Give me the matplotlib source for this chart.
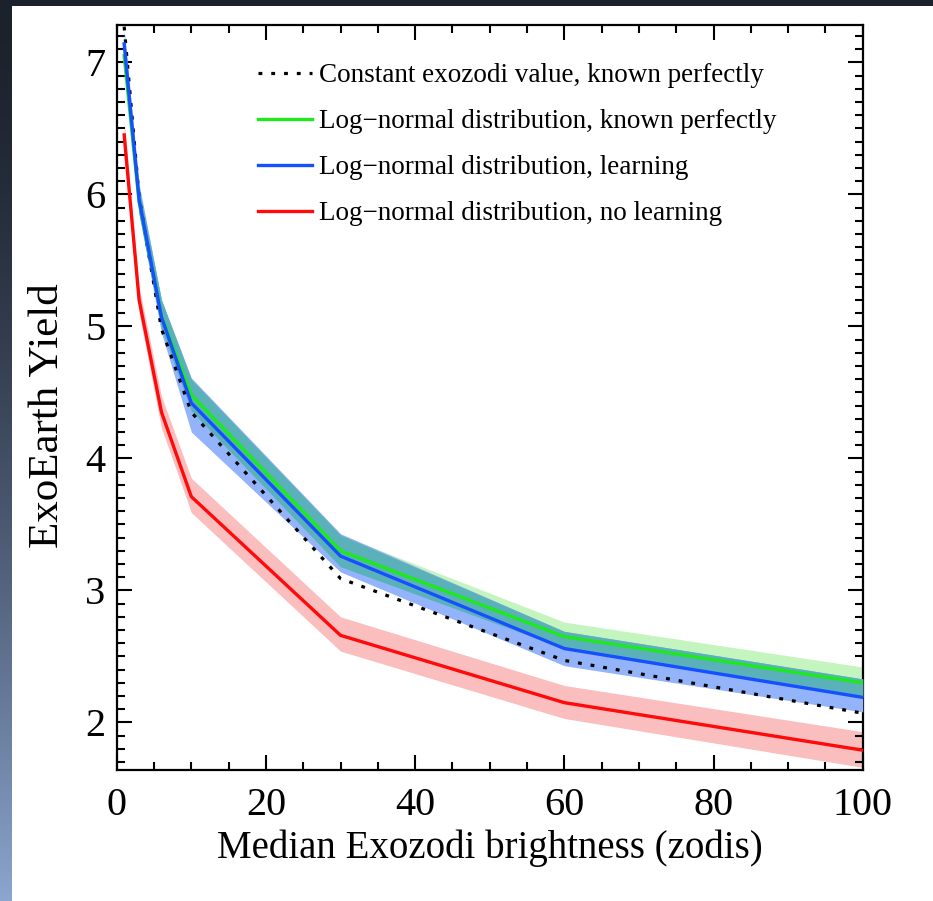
import numpy as np
import matplotlib
matplotlib.use('Agg')
import matplotlib.pyplot as plt
from matplotlib.ticker import MultipleLocator

plt.rcParams['font.family'] = ['Liberation Serif', 'DejaVu Serif']

# Median exozodi brightness (zodis) at which yields were computed
zodis = [1, 3, 6, 10, 30, 60, 100]

# Constant exozodi value, known perfectly
const_yield = [7.27, 5.98, 4.98, 4.35, 3.09, 2.47, 2.07]

# Log-normal distribution, known perfectly
known_yield = [7.05, 5.94, 5.08, 4.48, 3.30, 2.65, 2.30]
known_hi = [7.15, 6.05, 5.20, 4.60, 3.42, 2.76, 2.42]
known_lo = [6.95, 5.85, 4.98, 4.36, 3.18, 2.56, 2.19]

# Log-normal distribution, learning
learn_yield = [7.14, 5.96, 5.07, 4.42, 3.26, 2.56, 2.19]
learn_hi = [7.25, 6.08, 5.20, 4.61, 3.43, 2.69, 2.33]
learn_lo = [7.03, 5.85, 4.95, 4.20, 3.14, 2.43, 2.08]

# Log-normal distribution, no learning
nolearn_yield = [6.45, 5.20, 4.35, 3.71, 2.66, 2.15, 1.79]
nolearn_hi = [6.56, 5.30, 4.47, 3.85, 2.80, 2.28, 1.93]
nolearn_lo = [6.34, 5.10, 4.23, 3.59, 2.54, 2.03, 1.66]

labels = ['Constant exozodi value, known perfectly',
          'Log\u2212normal distribution, known perfectly',
          'Log\u2212normal distribution, learning',
          'Log\u2212normal distribution, no learning']

fig = plt.figure(figsize=(9.33, 9.01), dpi=100)
fig.patch.set_facecolor('white')

# slide border: dark strip on top, gradient strip on the left
bg = fig.add_axes([0, 0, 1, 1], zorder=-10)
bg.set_axis_off()
bg.set_xlim(0, 933)
bg.set_ylim(901, 0)
t = np.linspace(0, 1, 256)[:, None] ** 1.6
dark = np.array([28, 34, 44]) / 255.0
light = np.array([140, 165, 207]) / 255.0
grad = dark + (light - dark) * t
bg.imshow(np.repeat(grad[:, None, :], 2, axis=1).reshape(256, 2, 3),
          extent=[0, 12, 901, 0], aspect='auto')
bg.add_patch(plt.Rectangle((0, 0), 933, 6, color=dark, lw=0))

ax = fig.add_axes([0.1251, 0.1454, 0.7996, 0.8272])

ax.fill_between(zodis, nolearn_lo, nolearn_hi, color='#fbbebe', lw=0, zorder=1)
ax.fill_between(zodis, known_lo, known_hi, color='#c4f5bf', lw=0, zorder=2)
ax.fill_between(zodis, learn_lo, learn_hi, color='#93b3fa', lw=0, zorder=3)
ov_lo = np.maximum(known_lo, learn_lo)
ov_hi = np.minimum(known_hi, learn_hi)
ax.fill_between(zodis, ov_lo, ov_hi, where=ov_hi > ov_lo, interpolate=True,
                color='#5ab1b9', lw=0, zorder=4)

ax.plot(zodis, const_yield, color='black', lw=2.3, ls=(0, (1.2, 2.8)),
        dash_capstyle='butt', label=labels[0], zorder=5)
ax.plot(zodis, known_yield, color='#1ee81e', lw=2.4, label=labels[1], zorder=6)
ax.plot(zodis, learn_yield, color='#1450ff', lw=2.4, label=labels[2], zorder=7)
ax.plot(zodis, nolearn_yield, color='#ff0a0a', lw=2.4, label=labels[3], zorder=8)

ax.set_xlim(0, 100)
ax.set_ylim(1.64, 7.285)
ax.xaxis.set_major_locator(MultipleLocator(20))
ax.xaxis.set_minor_locator(MultipleLocator(5))
ax.yaxis.set_major_locator(MultipleLocator(1))
ax.yaxis.set_minor_locator(MultipleLocator(0.1))
ax.tick_params(which='both', direction='in', top=True, right=True, width=1.5,
               labelsize=29)
ax.tick_params(which='major', length=11)
ax.tick_params(which='minor', length=5.5)
ax.tick_params(axis='x', pad=12)
ax.tick_params(axis='y', pad=8)
for s in ax.spines.values():
    s.set_linewidth(1.6)

ax.set_xlabel('Median Exozodi brightness (zodis)', fontsize=28, labelpad=4)
ax.set_ylabel('ExoEarth Yield', fontsize=31)
ax.yaxis.set_label_coords(-0.067, 0.476)

ax.legend(loc='upper left', bbox_to_anchor=(0.175, 0.963), frameon=False,
          fontsize=19.5, handlelength=2.0, handletextpad=0.25,
          labelspacing=0.78, borderaxespad=0)

fig.savefig('out.png', dpi=100)
